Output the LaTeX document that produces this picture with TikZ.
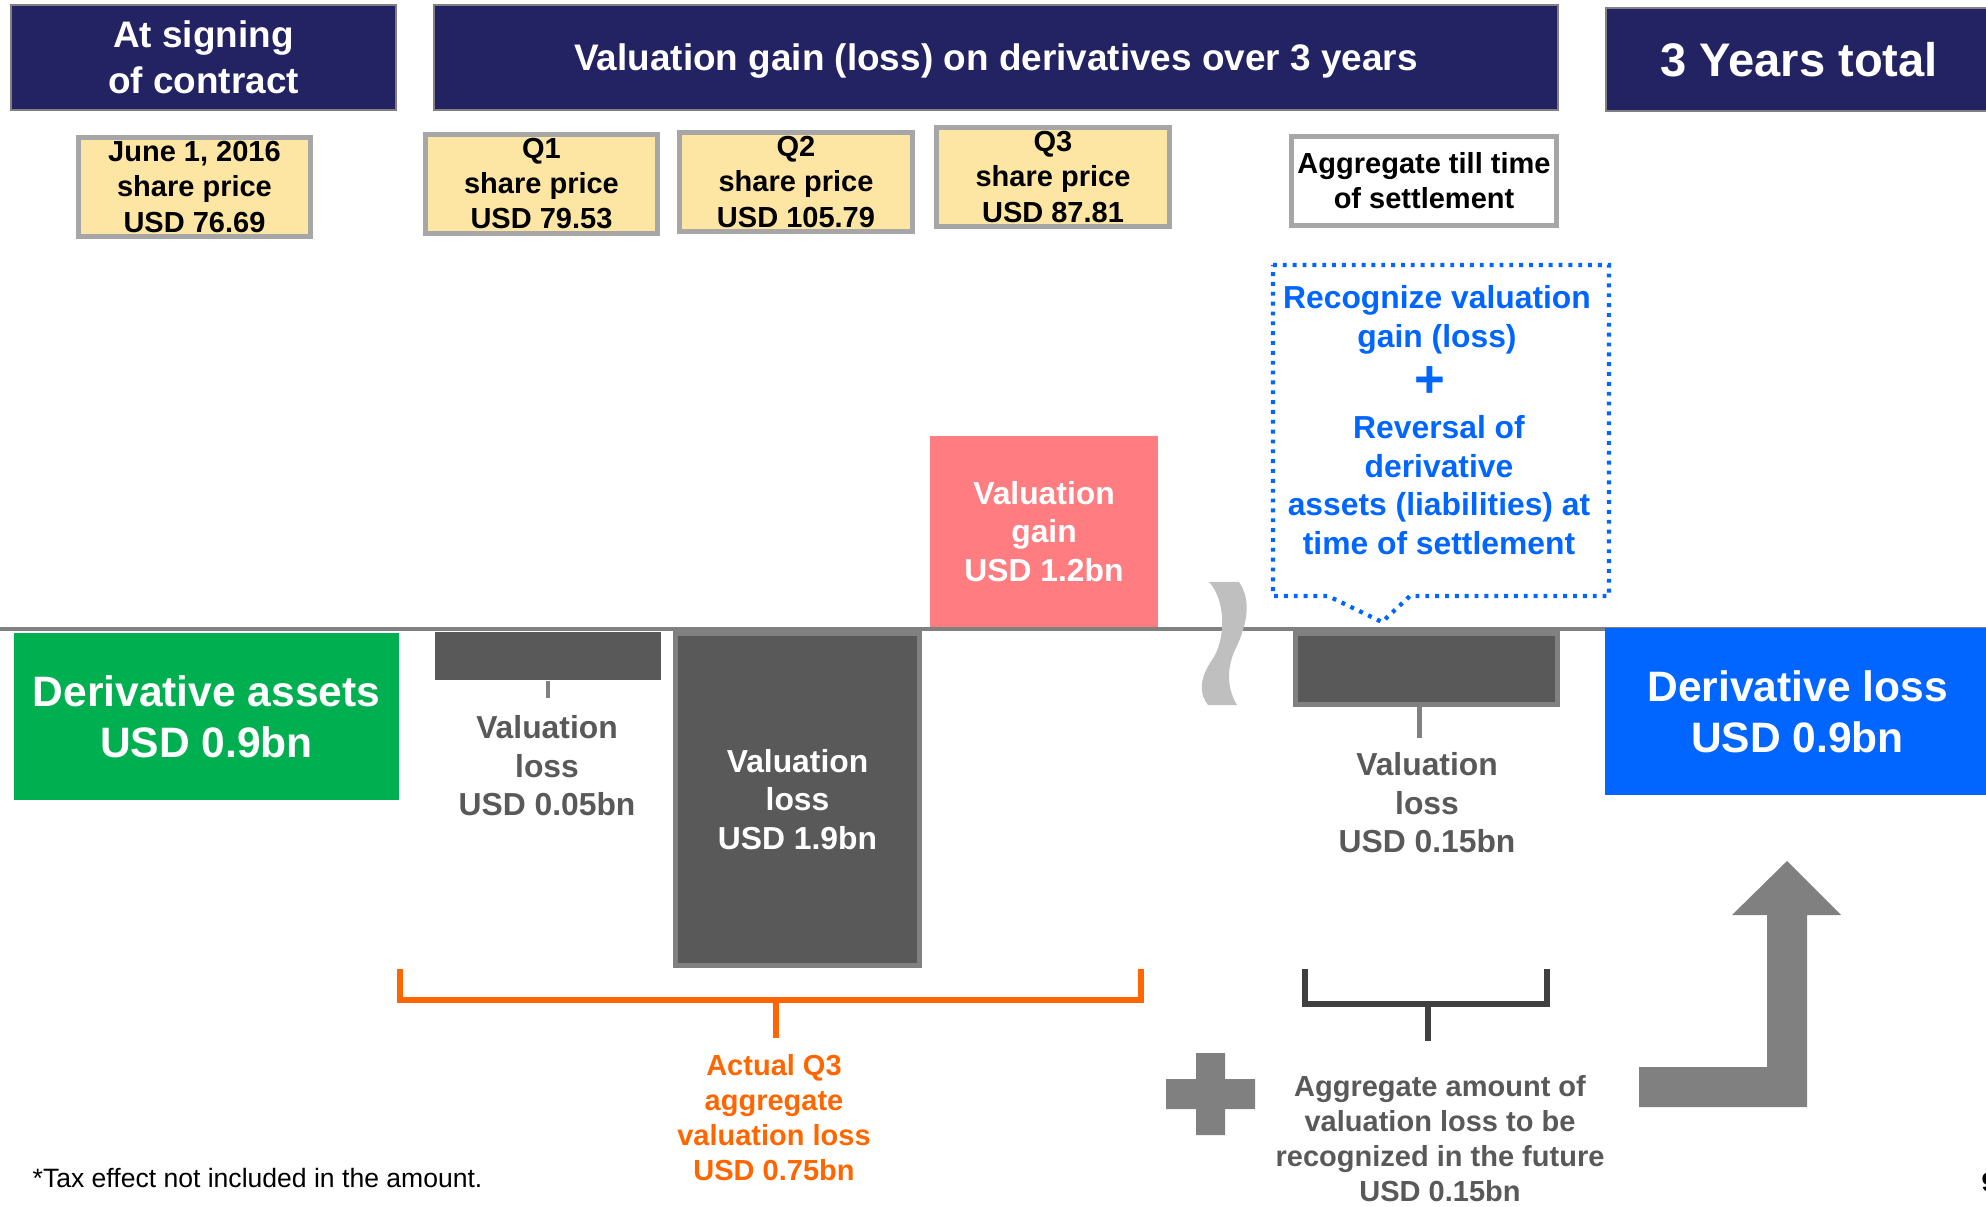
\documentclass[tikz,border=0pt]{standalone}
\usepackage{fontspec}
\setmainfont{Liberation Sans}

\definecolor{navy}{RGB}{35,35,100}
\definecolor{wheat}{RGB}{253,229,164}
\definecolor{bargray}{RGB}{89,89,89}
\definecolor{midgray}{RGB}{128,128,128}
\definecolor{framegray}{RGB}{166,166,166}
\definecolor{squiggray}{RGB}{191,191,191}
\definecolor{assetgreen}{RGB}{0,176,80}
\definecolor{lossblue}{RGB}{0,102,255}
\definecolor{gainpink}{RGB}{255,124,128}
\definecolor{sumorange}{RGB}{255,102,0}
\definecolor{darkline}{RGB}{64,64,64}

\newcommand{\notesize}{\fontsize{7.55}{9}\selectfont}
\newcommand{\pricesize}{\fontsize{8.25}{9.96}\selectfont}
\newcommand{\barsize}{\fontsize{9.05}{10.95}\selectfont}
\newcommand{\headsize}{\fontsize{10.5}{13.1}\selectfont}
\newcommand{\bigsize}{\fontsize{12.1}{14.5}\selectfont}
\newcommand{\totalsize}{\fontsize{13.4}{16}\selectfont}

\begin{document}
\begin{tikzpicture}[x=0.01cm, y=-0.01cm,
	header/.style={draw=midgray, line width=0.6pt, fill=navy, text=white, font=\bfseries\headsize, align=center, inner sep=0pt},
	pricebox/.style={draw=framegray, line width=1.4pt, fill=wheat, font=\bfseries\pricesize, align=center, inner sep=0pt, minimum width=2.32cm, minimum height=0.99cm},
	bigbox/.style={text=white, font=\bfseries\bigsize, align=center, inner sep=0pt, minimum width=3.85cm, minimum height=1.67cm},
	lossbar/.style={fill=bargray, inner sep=0pt},
	barlabel/.style={text=bargray, font=\bfseries\barsize, align=center, inner sep=0pt},
	tick/.style={midgray, line width=1.3pt}]
	\useasboundingbox (0,0) rectangle (1986,1207);

	\node[header, minimum width=3.85cm, minimum height=1.05cm] (signing) at (203.5,57.5) {At signing\\of contract};
	\node[header, minimum width=11.24cm, minimum height=1.05cm, text depth=0pt] (overyears) at (996,57.5) {Valuation gain (loss) on derivatives over 3 years};
	\node[header, minimum width=3.86cm, minimum height=1.03cm, text depth=0pt, font=\bfseries\totalsize] (total) at (1799,59.5) {3 Years total};

	\node[pricebox] (june) at (194.5,187) {June 1, 2016\\share price\\USD 76.69};
	\node[pricebox] (qone) at (541.5,184) {Q1\\share price\\USD 79.53};
	\node[pricebox] (qtwo) at (796,182) {Q2\\share price\\USD 105.79};
	\node[pricebox] (qthree) at (1053,177) {Q3\\share price\\USD 87.81};
	\node[pricebox, fill=white, minimum width=2.65cm, minimum height=0.89cm] (tillsettle) at (1424,181) {Aggregate till time\\of settlement};

	% axis
	\draw[midgray, line width=1.3pt] (0,629) -- (1986,629);
	\fill[squiggray] (1209,582) .. controls (1226,600) and (1226,640) .. (1212,660)
		.. controls (1198,680) and (1200,695) .. (1208,705) -- (1237,705)
		.. controls (1228,690) and (1226,672) .. (1234,652)
		.. controls (1250,620) and (1250,598) .. (1239,582) -- cycle;

	\node[bigbox, fill=assetgreen] (assets) at (206.5,716.5) {Derivative assets\\USD 0.9bn};
	\node[bigbox, fill=lossblue] (totalloss) at (1797.5,711.5) {Derivative loss\\USD 0.9bn};

	\node[lossbar, minimum width=2.26cm, minimum height=0.48cm] (qonebar) at (548,656) {};
	\node[lossbar, draw=midgray, line width=1.4pt, minimum width=2.44cm, minimum height=3.32cm, text=white, font=\bfseries\barsize, align=center] (qtwobar) at (797.5,799.5) {Valuation\\loss\\USD 1.9bn};
	\node[fill=gainpink, minimum width=2.28cm, minimum height=1.91cm, text=white, font=\bfseries\barsize, align=center, inner sep=0pt] (qthreebar) at (1044,531.5) {Valuation\\gain\\USD 1.2bn};
	\node[lossbar, draw=midgray, line width=1.4pt, minimum width=2.62cm, minimum height=0.71cm] (settlebar) at (1426.5,669) {};

	\node[barlabel] (qonelabel) at (547,766) {Valuation\\loss\\USD 0.05bn};
	\node[barlabel] (settlelabel) at (1427,803) {Valuation\\loss\\USD 0.15bn};
	\draw[tick] (qonebar.south) -- ++(0,17);
	\draw[tick] ([xshift=-0.07cm]settlebar.south) -- ++(0,31);

	% settlement callout
	\draw[lossblue, line width=1.2pt, dash pattern=on 1.1pt off 1.7pt]
		(1273,265) -- (1609,265) -- (1609,596) -- (1410,596) -- (1382,622) -- (1328,596) -- (1273,596) -- cycle;
	\node[text=lossblue, font=\bfseries\barsize, align=center, inner sep=0pt] (recognize) at (1437,320) {Recognize valuation\\gain (loss)};
	\node[text=lossblue, font=\bfseries\fontsize{15}{15}\selectfont, inner sep=0pt] (plusmark) at (1430,382) {+};
	\node[text=lossblue, font=\bfseries\barsize, align=center, inner sep=0pt] (reversal) at (1439,485) {Reversal of\\derivative\\assets (liabilities) at\\time of settlement};

	% brackets
	\draw[sumorange, line width=1.7pt] (400,969) |- (1141,1000) -- (1141,969);
	\coordinate (orangemid) at (776,1000);
	\draw[sumorange, line width=1.7pt] (orangemid) -- ++(0,38);
	\node[text=sumorange, font=\bfseries\pricesize, align=center, inner sep=0pt] (actualqthree) at (774,1118) {Actual Q3\\aggregate\\valuation loss\\USD 0.75bn};

	\draw[darkline, line width=1.5pt] (1305,969) |- (1547,1004) -- (1547,969);
	\coordinate (darkmid) at (1428,1004);
	\draw[darkline, line width=1.5pt] (darkmid) -- ++(0,37);
	\node[text=bargray, font=\bfseries\pricesize, align=center, inner sep=0pt] (future) at (1440,1139) {Aggregate amount of\\valuation loss to be\\recognized in the future\\USD 0.15bn};

	\fill[midgray] (1196,1053) rectangle (1225,1135) (1166,1079) rectangle (1255,1109);
	\fill[midgray] (1639,1067) -- (1767,1067) -- (1767,915) -- (1732,915) -- (1787,861)
		-- (1841,915) -- (1807,915) -- (1807,1107) -- (1639,1107) -- cycle;

	\node[anchor=west, font=\notesize, inner sep=0pt] (taxnote) at (32,1178) {*Tax effect not included in the amount.};
	\node[anchor=west, font=\bfseries\notesize, inner sep=0pt] (pagenum) at (1981,1182) {9};
\end{tikzpicture}
\end{document}
